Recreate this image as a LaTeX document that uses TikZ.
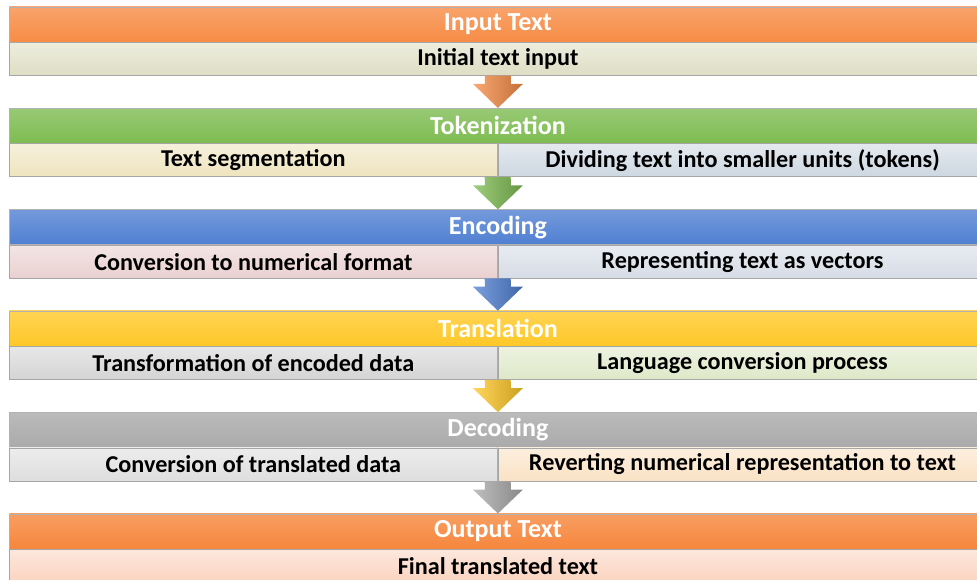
\documentclass[tikz,border=0pt]{standalone}
\usepackage{fontspec}
\setmainfont{Carlito}
\usetikzlibrary{positioning,calc}

% Farben der Kopfzeilen
\definecolor{orangekopf}{RGB}{247,140,70}
\definecolor{gruenkopf}{RGB}{126,188,82}
\definecolor{blaukopf}{RGB}{80,128,210}
\definecolor{gelbkopf}{RGB}{255,200,40}
\definecolor{graukopf}{RGB}{170,170,170}
\definecolor{ausgabekopf}{RGB}{246,134,60}
% Farben der Zeilen darunter
\definecolor{olivzeile}{RGB}{222,222,196}
\definecolor{cremezeile}{RGB}{238,228,190}
\definecolor{blauzeile}{RGB}{205,215,225}
\definecolor{rosazeile}{RGB}{234,208,208}
\definecolor{hellblauzeile}{RGB}{214,220,230}
\definecolor{grauzeile}{RGB}{212,212,212}
\definecolor{gruenzeile}{RGB}{222,232,200}
\definecolor{hellgrauzeile}{RGB}{222,222,222}
\definecolor{pfirsichzeile}{RGB}{250,226,196}
\definecolor{lachszeile}{RGB}{251,212,192}

\tikzset{
	kopf/.style={anchor=north west, minimum width=24.425cm, minimum height=0.875cm,
		inner sep=0pt, draw=gray!60, top color=#1!80!white, bottom color=#1,
		text=white, font=\bfseries\fontsize{18.5}{20}\selectfont},
	zeile/.style={anchor=north west, minimum height=0.825cm, inner sep=0pt,
		draw=gray!70, top color=#1!55!white, bottom color=#1,
		text=black, font=\bfseries\fontsize{17.2}{19}\selectfont},
	ganz/.style={zeile=#1, minimum width=24.425cm},
	halbl/.style={zeile=#1, minimum width=12.2cm},
	halbr/.style={zeile=#1, minimum width=12.225cm},
}

% Blockpfeil von #1 nach #2 in Farbe #3
\newcommand{\blockpfeil}[3]{%
	\shade[left color=#3!75!white, middle color=#3, right color=#3!80!black]
		($(#1)+(-13,0)$) -- ($(#2)+(-13,-24)$) -- ($(#2)+(-25,-24)$) -- (#2)
		-- ($(#2)+(25,-24)$) -- ($(#2)+(13,-24)$) -- ($(#1)+(13,0)$) -- cycle;}

\begin{document}
\begin{tikzpicture}[x=0.025cm, y=-0.025cm]
	% Bildausschnitt
	\clip (0,0) rectangle (977,579);

	% Input Text
	\node[kopf=orangekopf] (eingabe) at (9,6.5) {Input Text};
	\node[ganz=olivzeile] (eingabeA) at (eingabe.south west) {Initial text input};

	% Tokenization
	\node[kopf=gruenkopf] (token) at (9,107.9) {Tokenization};
	\node[halbl=cremezeile] (tokenA) at (token.south west) {Text segmentation};
	\node[halbr=blauzeile] (tokenB) at (tokenA.north east) {Dividing text into smaller units (tokens)};

	% Encoding
	\node[kopf=blaukopf] (kodier) at (9,209.3) {Encoding};
	\node[halbl=rosazeile] (kodierA) at (kodier.south west) {Conversion to numerical format};
	\node[halbr=hellblauzeile] (kodierB) at (kodierA.north east) {Representing text as vectors};

	% Translation
	\node[kopf=gelbkopf] (ueber) at (9,310.7) {Translation};
	\node[halbl=grauzeile] (ueberA) at (ueber.south west) {Transformation of encoded data};
	\node[halbr=gruenzeile] (ueberB) at (ueberA.north east) {Language conversion process};

	% Decoding
	\node[kopf=graukopf] (dekodier) at (9,412.1) {Decoding};
	\node[halbl=hellgrauzeile] (dekodierA) at (dekodier.south west) {Conversion of translated data};
	\node[halbr=pfirsichzeile] (dekodierB) at (dekodierA.north east) {Reverting numerical representation to text};

	% Output Text
	\node[kopf=ausgabekopf] (ausgabe) at (9,513.5) {Output Text};
	\node[ganz=lachszeile] (ausgabeA) at (ausgabe.south west) {Final translated text};

	% Pfeile zwischen den Stufen
	\blockpfeil{eingabeA.south}{token.north}{orangekopf}
	\blockpfeil{tokenA.south east}{kodier.north}{gruenkopf}
	\blockpfeil{kodierA.south east}{ueber.north}{blaukopf}
	\blockpfeil{ueberA.south east}{dekodier.north}{gelbkopf}
	\blockpfeil{dekodierA.south east}{ausgabe.north}{graukopf}
\end{tikzpicture}
\end{document}
